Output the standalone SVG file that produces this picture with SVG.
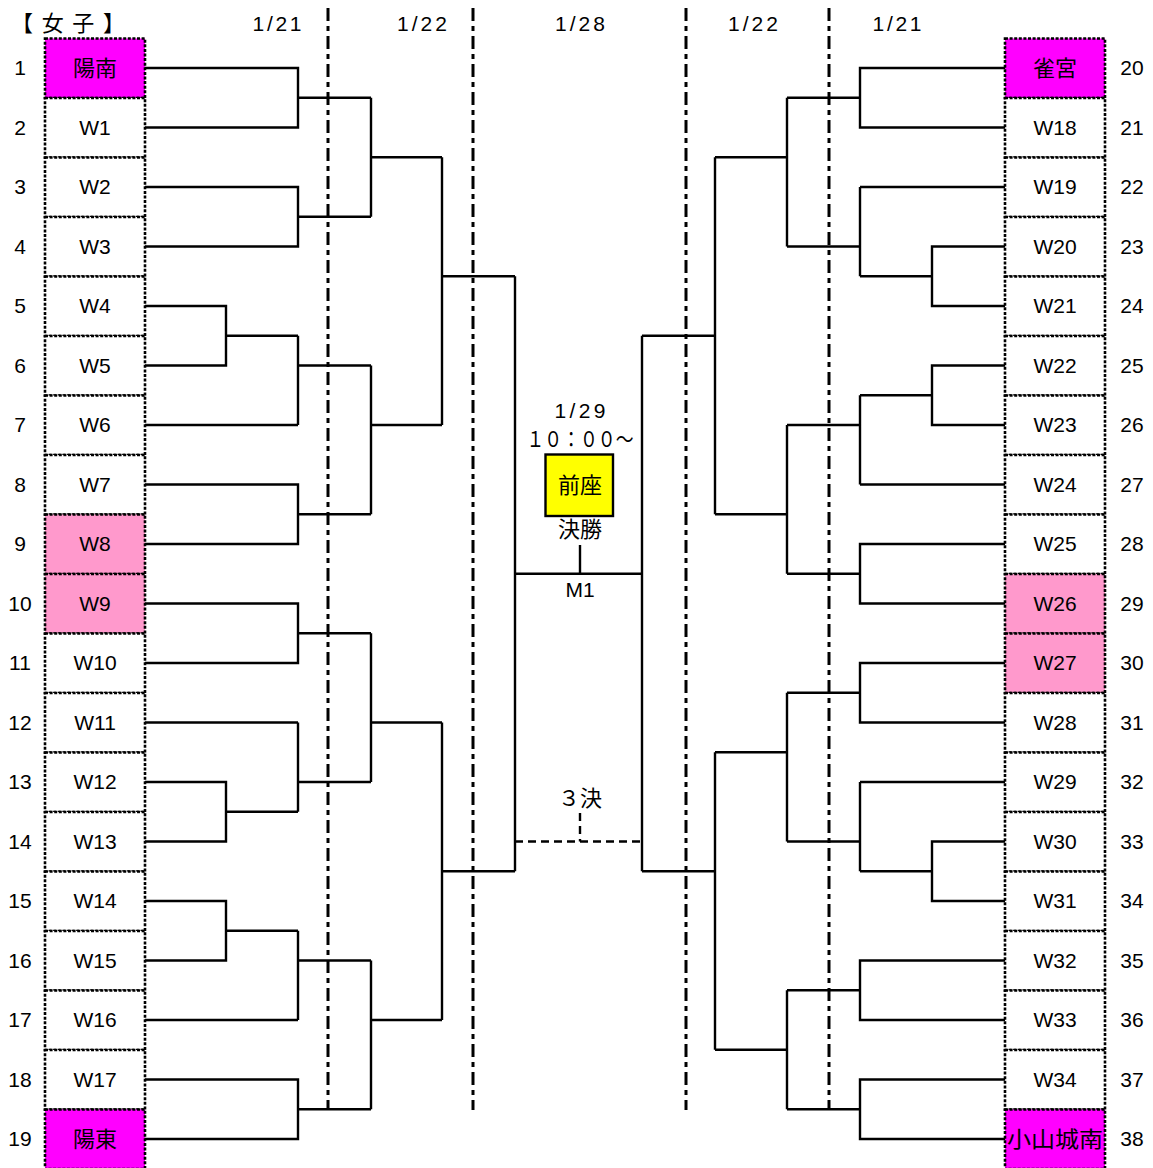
<svg xmlns="http://www.w3.org/2000/svg" width="1153" height="1168" viewBox="0 0 1153 1168">
<style>
text{font-family:"Liberation Sans","Noto Sans CJK JP",sans-serif;font-size:21px;fill:#000;text-anchor:middle}
.cj{font-size:22px}
.box{stroke:#000;stroke-width:2.6;stroke-dasharray:3,1.6}
.ln{fill:none;stroke:#000;stroke-width:2.4}
.dv{fill:none;stroke:#000;stroke-width:3;stroke-dasharray:13,5,5,5}
.dh{fill:none;stroke:#000;stroke-width:2.4;stroke-dasharray:8,5}
</style>
<rect width="1153" height="1168" fill="#fff"/>
<g id="header">
<text x="68" y="31" class="cj" textLength="114" lengthAdjust="spacing">【女子】</text>
<text x="277" y="31" textLength="49" lengthAdjust="spacing">1/21</text>
<text x="422" y="31" textLength="50" lengthAdjust="spacing">1/22</text>
<text x="580" y="31" textLength="50" lengthAdjust="spacing">1/28</text>
<text x="753" y="31" textLength="50" lengthAdjust="spacing">1/22</text>
<text x="897" y="31" textLength="49" lengthAdjust="spacing">1/21</text>
</g>
<g id="guides">
<path class="dv" d="M328 8V1110M473 8V1110M686 8V1110M829 8V1110"/>
</g>
<g id="left-nodes">
<g id="n1"><rect class="box" x="45" y="38.5" width="100" height="59.5" fill="#ff00ff"/><text class="cj" x="95" y="76">陽南</text><text x="20" y="75">1</text></g>
<g id="n2"><rect class="box" x="45" y="98" width="100" height="59.5" fill="#fff"/><text x="95" y="134.5">W1</text><text x="20" y="134.5">2</text></g>
<g id="n3"><rect class="box" x="45" y="157.5" width="100" height="59.5" fill="#fff"/><text x="95" y="194">W2</text><text x="20" y="194">3</text></g>
<g id="n4"><rect class="box" x="45" y="217" width="100" height="59.5" fill="#fff"/><text x="95" y="253.5">W3</text><text x="20" y="253.5">4</text></g>
<g id="n5"><rect class="box" x="45" y="276.5" width="100" height="59.5" fill="#fff"/><text x="95" y="313">W4</text><text x="20" y="313">5</text></g>
<g id="n6"><rect class="box" x="45" y="336" width="100" height="59.5" fill="#fff"/><text x="95" y="372.5">W5</text><text x="20" y="372.5">6</text></g>
<g id="n7"><rect class="box" x="45" y="395.5" width="100" height="59.5" fill="#fff"/><text x="95" y="432">W6</text><text x="20" y="432">7</text></g>
<g id="n8"><rect class="box" x="45" y="455" width="100" height="59.5" fill="#fff"/><text x="95" y="491.5">W7</text><text x="20" y="491.5">8</text></g>
<g id="n9"><rect class="box" x="45" y="514.5" width="100" height="59.5" fill="#ff99cc"/><text x="95" y="551">W8</text><text x="20" y="551">9</text></g>
<g id="n10"><rect class="box" x="45" y="574" width="100" height="59.5" fill="#ff99cc"/><text x="95" y="610.5">W9</text><text x="20" y="610.5">10</text></g>
<g id="n11"><rect class="box" x="45" y="633.5" width="100" height="59.5" fill="#fff"/><text x="95" y="670">W10</text><text x="20" y="670">11</text></g>
<g id="n12"><rect class="box" x="45" y="693" width="100" height="59.5" fill="#fff"/><text x="95" y="729.5">W11</text><text x="20" y="729.5">12</text></g>
<g id="n13"><rect class="box" x="45" y="752.5" width="100" height="59.5" fill="#fff"/><text x="95" y="789">W12</text><text x="20" y="789">13</text></g>
<g id="n14"><rect class="box" x="45" y="812" width="100" height="59.5" fill="#fff"/><text x="95" y="848.5">W13</text><text x="20" y="848.5">14</text></g>
<g id="n15"><rect class="box" x="45" y="871.5" width="100" height="59.5" fill="#fff"/><text x="95" y="908">W14</text><text x="20" y="908">15</text></g>
<g id="n16"><rect class="box" x="45" y="931" width="100" height="59.5" fill="#fff"/><text x="95" y="967.5">W15</text><text x="20" y="967.5">16</text></g>
<g id="n17"><rect class="box" x="45" y="990.5" width="100" height="59.5" fill="#fff"/><text x="95" y="1027">W16</text><text x="20" y="1027">17</text></g>
<g id="n18"><rect class="box" x="45" y="1050" width="100" height="59.5" fill="#fff"/><text x="95" y="1086.5">W17</text><text x="20" y="1086.5">18</text></g>
<g id="n19"><rect class="box" x="45" y="1109.5" width="100" height="59.5" fill="#ff00ff"/><text class="cj" x="95" y="1147">陽東</text><text x="20" y="1146">19</text></g>
</g>
<g id="right-nodes">
<g id="n20"><rect class="box" x="1005" y="38.5" width="100" height="59.5" fill="#ff00ff"/><text class="cj" x="1055" y="76">雀宮</text><text x="1132" y="75">20</text></g>
<g id="n21"><rect class="box" x="1005" y="98" width="100" height="59.5" fill="#fff"/><text x="1055" y="134.5">W18</text><text x="1132" y="134.5">21</text></g>
<g id="n22"><rect class="box" x="1005" y="157.5" width="100" height="59.5" fill="#fff"/><text x="1055" y="194">W19</text><text x="1132" y="194">22</text></g>
<g id="n23"><rect class="box" x="1005" y="217" width="100" height="59.5" fill="#fff"/><text x="1055" y="253.5">W20</text><text x="1132" y="253.5">23</text></g>
<g id="n24"><rect class="box" x="1005" y="276.5" width="100" height="59.5" fill="#fff"/><text x="1055" y="313">W21</text><text x="1132" y="313">24</text></g>
<g id="n25"><rect class="box" x="1005" y="336" width="100" height="59.5" fill="#fff"/><text x="1055" y="372.5">W22</text><text x="1132" y="372.5">25</text></g>
<g id="n26"><rect class="box" x="1005" y="395.5" width="100" height="59.5" fill="#fff"/><text x="1055" y="432">W23</text><text x="1132" y="432">26</text></g>
<g id="n27"><rect class="box" x="1005" y="455" width="100" height="59.5" fill="#fff"/><text x="1055" y="491.5">W24</text><text x="1132" y="491.5">27</text></g>
<g id="n28"><rect class="box" x="1005" y="514.5" width="100" height="59.5" fill="#fff"/><text x="1055" y="551">W25</text><text x="1132" y="551">28</text></g>
<g id="n29"><rect class="box" x="1005" y="574" width="100" height="59.5" fill="#ff99cc"/><text x="1055" y="610.5">W26</text><text x="1132" y="610.5">29</text></g>
<g id="n30"><rect class="box" x="1005" y="633.5" width="100" height="59.5" fill="#ff99cc"/><text x="1055" y="670">W27</text><text x="1132" y="670">30</text></g>
<g id="n31"><rect class="box" x="1005" y="693" width="100" height="59.5" fill="#fff"/><text x="1055" y="729.5">W28</text><text x="1132" y="729.5">31</text></g>
<g id="n32"><rect class="box" x="1005" y="752.5" width="100" height="59.5" fill="#fff"/><text x="1055" y="789">W29</text><text x="1132" y="789">32</text></g>
<g id="n33"><rect class="box" x="1005" y="812" width="100" height="59.5" fill="#fff"/><text x="1055" y="848.5">W30</text><text x="1132" y="848.5">33</text></g>
<g id="n34"><rect class="box" x="1005" y="871.5" width="100" height="59.5" fill="#fff"/><text x="1055" y="908">W31</text><text x="1132" y="908">34</text></g>
<g id="n35"><rect class="box" x="1005" y="931" width="100" height="59.5" fill="#fff"/><text x="1055" y="967.5">W32</text><text x="1132" y="967.5">35</text></g>
<g id="n36"><rect class="box" x="1005" y="990.5" width="100" height="59.5" fill="#fff"/><text x="1055" y="1027">W33</text><text x="1132" y="1027">36</text></g>
<g id="n37"><rect class="box" x="1005" y="1050" width="100" height="59.5" fill="#fff"/><text x="1055" y="1086.5">W34</text><text x="1132" y="1086.5">37</text></g>
<g id="n38"><rect class="box" x="1005" y="1109.5" width="100" height="59.5" fill="#ff00ff"/><text class="cj" x="1055" y="1147" textLength="96" lengthAdjust="spacingAndGlyphs">小山城南</text><text x="1132" y="1146">38</text></g>
</g>
<g id="connectors">
<path class="ln" d="M145 68H298V127.5H145M298 97.75H371M145 187H298V246.5H145M298 216.75H371M371 97.75V216.75M371 157.25H442
M145 306H226V365.5H145M226 335.75H298M145 425H298M298 335.75V425M298 365.5H371M145 484.5H298V544H145M298 514.25H371M371 365.5V514.25M371 425H442M442 157.25V425M442 276.25H515
M145 603.5H298V663H145M298 633.25H371M145 722.5H298M145 782H226V841.5H145M226 811.75H298M298 722.5V811.75M298 782H371M371 633.25V782M371 722.5H442
M145 901H226V960.5H145M226 930.75H298M145 1020H298M298 930.75V1020M298 960.5H371M145 1079.5H298V1139H145M298 1109.25H371M371 960.5V1109.25M371 1020H442M442 722.5V1020M442 871.25H515
M515 276.25V871.25M515 573.75H642M642 335.75V871.25"/>
<path class="ln" d="M1005 68H860V127.5H1005M860 97.75H787M1005 187H860M1005 246.5H932V306H1005M932 276.25H860M860 187V276.25M860 246.5H787M787 97.75V246.5M787 157.25H715
M1005 365.5H932V425H1005M932 395.25H860M1005 484.5H860M860 395.25V484.5M860 425H787M1005 544H860V603.5H1005M860 573.75H787M787 425V573.75M787 514.25H715M715 157.25V514.25M715 335.75H642
M1005 663H860V722.5H1005M860 692.75H787M1005 782H860M1005 841.5H932V901H1005M932 871.25H860M860 782V871.25M860 841.5H787M787 692.75V841.5M787 752.25H715
M1005 960.5H860V1020H1005M860 990.25H787M1005 1079.5H860V1139H1005M860 1109.25H787M787 990.25V1109.25M787 1049.75H715M715 752.25V1049.75M715 871.25H642"/>
<path class="ln" d="M580 545V574"/>
<path class="dh" d="M515 841.5H642M580 813V841.5"/>
</g>
<g id="final">
<text x="580" y="418" textLength="51" lengthAdjust="spacing">1/29</text>
<text x="580" y="447" style="font-size:22px" textLength="107" lengthAdjust="spacingAndGlyphs">１０：００～</text>
<rect x="545.5" y="454.5" width="67.5" height="61.5" fill="#ffff00" stroke="#000" stroke-width="2.4"/>
<text class="cj" x="580" y="493">前座</text>
<text class="cj" x="580" y="537">決勝</text>
<text x="580" y="597">M1</text>
<text class="cj" x="580" y="806">３決</text>
</g>
</svg>
